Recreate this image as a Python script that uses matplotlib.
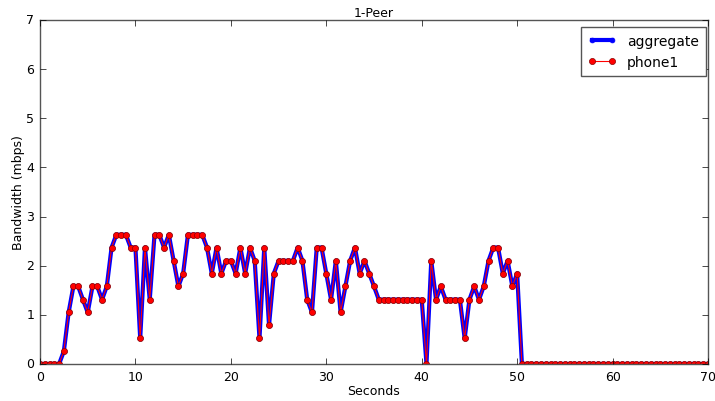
import numpy as np
import matplotlib
matplotlib.use("Agg")
import matplotlib.pyplot as plt

plt.style.use("classic")

seconds = np.arange(0, 70.5, 0.5)

phone1 = [
    0, 0, 0, 0, 0, 0.26, 1.05, 1.58, 1.58, 1.31,      # 0 - 4.5
    1.05, 1.58, 1.58, 1.31, 1.58, 2.37, 2.63, 2.63, 2.63, 2.37,  # 5 - 9.5
    2.37, 0.52, 2.37, 1.31, 2.63, 2.63, 2.37, 2.63, 2.10, 1.58,  # 10 - 14.5
    1.84, 2.63, 2.63, 2.63, 2.63, 2.37, 1.84, 2.37, 1.84, 2.10,  # 15 - 19.5
    2.10, 1.84, 2.37, 1.84, 2.37, 2.10, 0.52, 2.37, 0.79, 1.84,  # 20 - 24.5
    2.10, 2.10, 2.10, 2.10, 2.37, 2.10, 1.31, 1.05, 2.37, 2.37,  # 25 - 29.5
    1.84, 1.31, 2.10, 1.05, 1.58, 2.10, 2.37, 1.84, 2.10, 1.84,  # 30 - 34.5
    1.58, 1.31, 1.31, 1.31, 1.31, 1.31, 1.31, 1.31, 1.31, 1.31,  # 35 - 39.5
    1.31, 0, 2.10, 1.31, 1.58, 1.31, 1.31, 1.31, 1.31, 0.52,     # 40 - 44.5
    1.31, 1.58, 1.31, 1.58, 2.10, 2.37, 2.37, 1.84, 2.10, 1.58,  # 45 - 49.5
    1.84, 0, 0, 0, 0, 0, 0, 0, 0, 0,                             # 50 - 54.5
    0, 0, 0, 0, 0, 0, 0, 0, 0, 0,                                # 55 - 59.5
    0, 0, 0, 0, 0, 0, 0, 0, 0, 0,                                # 60 - 64.5
    0, 0, 0, 0, 0, 0, 0, 0, 0, 0,                                # 65 - 69.5
    0,                                                           # 70
]
aggregate = list(phone1)

fig = plt.figure(figsize=(7.15, 4.02), dpi=100, facecolor="white")
ax = fig.add_axes([40/715, 37/402, 668/715, 344/402])
ax.set_facecolor("white")

ax.plot(seconds, aggregate, color="blue", lw=3, marker="o", ms=3.5,
        mfc="blue", mec="blue", label="aggregate")
ax.plot(seconds, phone1, color="red", lw=0.8, marker="o", ms=4.4,
        mfc="red", mec="#880000", mew=0.5, label="phone1")

ax.set_xlim(0, 70)
ax.set_ylim(0, 7)
ax.set_xticks(np.arange(0, 71, 10))
ax.set_yticks(np.arange(0, 8, 1))
ax.tick_params(labelsize=9, direction="in", top=True, right=True, length=4)
for s in ax.spines.values():
    s.set_color("#555555")
ax.set_title("1-Peer", fontsize=9, pad=3)
ax.set_xlabel("Seconds", fontsize=9, labelpad=1)
ax.set_ylabel("Bandwidth (mbps)", fontsize=9, labelpad=1)
leg = ax.legend(loc="upper right", fontsize=10, numpoints=2, frameon=True,
                fancybox=False, shadow=False, borderpad=0.5, handlelength=2,
                borderaxespad=0, bbox_to_anchor=(0.997, 0.98))
leg.get_frame().set_edgecolor("#555555")

fig.savefig("out.png", dpi=100, facecolor="white")
